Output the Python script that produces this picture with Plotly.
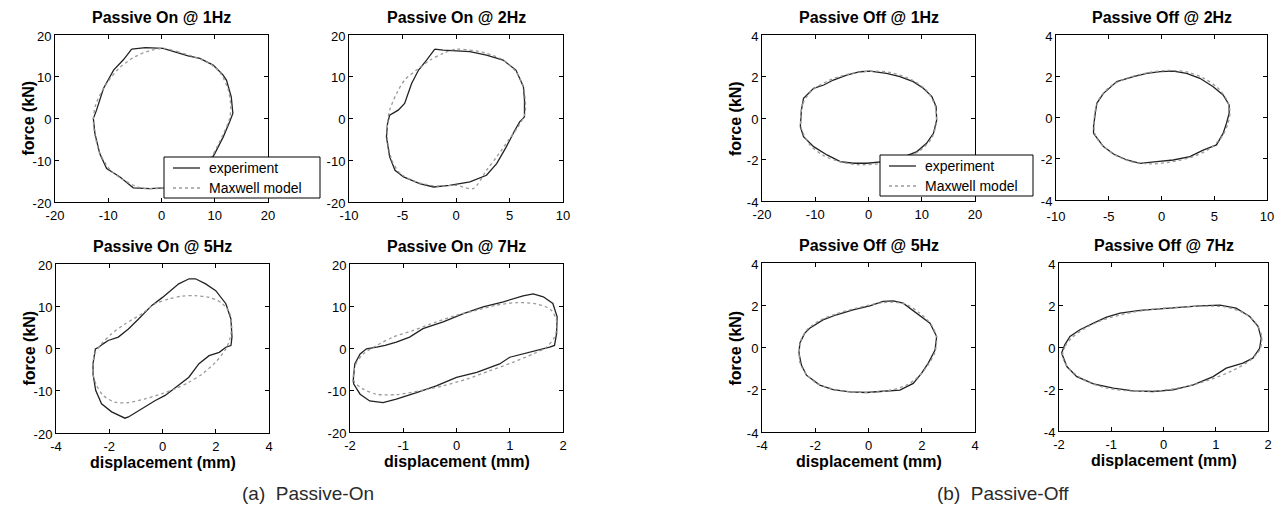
import plotly.graph_objects as go

PAGE_W, PAGE_H = 1283, 513
OFF = 8  # default body margin of the html page
W, H = PAGE_W - 2 * OFF, PAGE_H - 2 * OFF

# ---------------- data (displacement mm, force kN) ----------------
titles = ["Passive On @ 1Hz", "Passive On @ 2Hz", "Passive On @ 5Hz", "Passive On @ 7Hz",
          "Passive Off @ 1Hz", "Passive Off @ 2Hz", "Passive Off @ 5Hz", "Passive Off @ 7Hz"]
series_names = ["experiment", "Maxwell model"]
captions = ["(a)  Passive-On", "(b)  Passive-Off"]
x_title = "displacement (mm)"
y_title = "force (kN)"

x_ticks = [[-20, -10, 0, 10, 20], [-10, -5, 0, 5, 10], [-4, -2, 0, 2, 4], [-2, -1, 0, 1, 2],
           [-20, -10, 0, 10, 20], [-10, -5, 0, 5, 10], [-4, -2, 0, 2, 4], [-2, -1, 0, 1, 2]]
y_ticks_on = [-20, -10, 0, 10, 20]
y_ticks_off = [-4, -2, 0, 2, 4]

# Passive On @ 1Hz
on1_exp_x = [-5.6, -3, 0.3, 2.8, 5, 7.2, 9.7, 11.5, 12.2, 13.1, 13.4, 12.8, 11.6, 10, 8.5, 6.5, 3.5, 0.5,
             -2.2, -5.3, -7.8, -10.3, -11.6, -12.5, -12.8, -12.2, -10.9, -9, -7.2, -5.6]
on1_exp_y = [16.6, 17.0, 16.8, 15.8, 15.0, 14.4, 12.8, 10.5, 9.2, 5.2, 1.2, -0.8, -4.4, -8.4, -11.5, -14, -16, -16.6,
             -16.8, -16.6, -14, -12, -8.4, -3.6, 0, 2, 7.2, 11.6, 14, 16.6]
on1_mod_x = [0.5, 3, 6, 9, 11, 12.5, 13.0, 12.8, 11.5, 9.5, 7.5, 5, 2, -1, -4, -7, -9.5, -11.5, -12.5,
             -12.8, -12.3, -10.5, -8, -5, -2, 0.5]
on1_mod_y = [16.8, 16.0, 14.8, 13.2, 11, 7, 3, 0, -4, -9, -12.5, -15, -16.5, -16.8, -16.6, -14.8, -12.5, -8.5, -4,
             0, 3.5, 8, 12, 14.8, 16.3, 16.8]

# Passive On @ 2Hz
on2_exp_x = [-1.98, -1.2, 1.3, 2.85, 4.4, 5.6, 6.3, 6.4, 6.4, 5.95, 5.5, 4.7, 3.8, 2.85, 1.3, -0.6, -2.1, -3.4,
             -4.9, -5.7, -6.2, -6.5, -6.4, -6.2, -5.4, -4.8, -4.15, -3.5, -2.75, -1.98]
on2_exp_y = [16.6, 16.4, 16.0, 15.2, 14.0, 11.6, 7.6, 4.4, 0.4, -0.8, -2.8, -6.8, -10.8, -13.6, -15.2, -16, -16.4, -15.6,
             -14, -12.4, -9.2, -4.4, -1.2, 0.8, 2, 3.6, 8.4, 11.6, 14, 16.6]
on2_mod_x = [0, 1.3, 2.85, 4.4, 5.6, 6.3, 6.5, 6.4, 5.8, 4.9, 3.8, 2.85, 1.6, 0, -1.8, -3.7, -5.2, -6, -6.4, -6.4,
             -6.2, -5.55, -4.8, -3.7, -2.4, -1.2, 0]
on2_mod_y = [16.6, 16.4, 15.6, 14, 11.2, 7.6, 2.8, 0.8, -2, -5.2, -9.2, -12.4, -16.8, -16, -16.2, -15.2, -13.2, -10,
             -5.2, -1.2, 2, 6, 9.2, 11.6, 14, 15.6, 16.6]

# Passive On @ 5Hz
on5_exp_x = [-2.61, -2.61, -2.52, -2.42, -2.23, -2.04, -1.66, -1.28, -0.9, -0.4, 0, 0.3, 0.61, 1.0, 1.24, 1.62, 2.0,
             2.38, 2.57, 2.61, 2.57, 2.38, 2.13, 1.75, 1.37, 0.99, 0.49, 0.1, -0.27, -0.78, -1.28, -1.41, -1.91,
             -2.29, -2.51, -2.61]
on5_exp_y = [-6.0, -3.6, -0.1, 0.2, 1.1, 1.9, 2.7, 4.6, 7.0, 10.2, 12.1, 13.7, 15.3, 16.5, 16.5, 15.3, 13.7,
             10.6, 7.0, 2.7, 0.7, 0.3, -0.9, -1.7, -3.6, -6.8, -9.1, -11.1, -12.3, -14.3, -16.2, -16.5, -15.0,
             -13.1, -9.9, -6.0]
on5_mod_x = [-2.61, -2.55, -2.29, -1.91, -1.41, -0.78, -0.27, 0.23, 0.74, 1.24, 1.75, 2.19, 2.51, 2.6, 2.53, 2.38,
             2.0, 1.5, 0.99, 0.49, -0.02, -0.65, -1.28, -1.79, -2.23, -2.48, -2.61, -2.61]
on5_mod_y = [-3.6, -1.3, 1.1, 3.5, 5.8, 8.2, 10.6, 11.7, 12.4, 12.5, 12.1, 10.9, 8.6, 5.4, 2.3, -0.1,
             -3.2, -6.0, -8.0, -9.5, -10.7, -11.9, -12.8, -12.7, -11.1, -8.7, -6.0, -3.6]

# Passive On @ 7Hz
on7_exp_x = [-1.94, -1.91, -1.81, -1.69, -1.5, -1.34, -1.13, -0.88, -0.63, -0.25, 0.13, 0.5, 0.88, 1.25, 1.44,
             1.63, 1.81, 1.89, 1.88, 1.84, 1.75, 1.5, 1.25, 1.0, 0.81, 0.38, 0, -0.38, -0.75, -1.13, -1.38, -1.63,
             -1.81, -1.93, -1.94]
on7_exp_y = [-7.8, -3.8, -1.4, -0.2, 0.2, 0.6, 1.4, 2.6, 4.6, 6.2, 8.2, 9.8, 11, 12.4, 12.9,
             12.2, 10.6, 7.4, 3.4, 0.6, 0.2, -0.6, -1.5, -2.2, -3.8, -5.8, -7, -9, -10.6, -12.2, -13, -12.6,
             -11, -8.6, -7.8]
on7_mod_x = [-1.94, -1.89, -1.75, -1.5, -1.19, -0.81, -0.38, 0, 0.38, 0.75, 1.13, 1.5, 1.78, 1.89, 1.84, 1.69,
             1.44, 1.06, 0.63, 0.19, -0.25, -0.69, -1.13, -1.5, -1.75, -1.91, -1.94]
on7_mod_y = [-7, -3.8, -1.4, 0.6, 2.6, 4.2, 6.2, 7.8, 9, 10.2, 10.8, 10.5, 9, 5.8, 2.6, 0.2,
             -1.4, -3.4, -5.4, -7.4, -9, -10.2, -11.1, -11, -9.8, -8.2, -7]

# Passive Off @ 1Hz
off1_exp_x = [-12.8, -12.6, -12.2, -10.3, -8.4, -6.6, -4.1, -1.6, 0.3, 3.4, 5.9, 8.4, 10.3, 11.9, 12.7, 12.8,
              12.2, 10.9, 9.1, 5.9, 2.8, -0.3, -2.8, -5.3, -7.8, -10.3, -12.2, -12.8]
off1_exp_y = [-0.42, 0.39, 0.95, 1.43, 1.59, 1.83, 2.07, 2.23, 2.26, 2.15, 1.99, 1.75, 1.43, 1.03, 0.55, -0.1,
              -0.74, -1.22, -1.62, -1.94, -2.1, -2.18, -2.18, -2.1, -1.78, -1.38, -0.9, -0.42]
off1_mod_x = [-12.7, -12.3, -10.5, -7.5, -4, 0, 4, 8, 11, 12.6, 12.7, 11.8, 9.5, 6, 2, -2, -5.5, -8.5, -11, -12.7]
off1_mod_y = [-0.4, 0.7, 1.35, 1.8, 2.1, 2.25, 2.2, 1.85, 1.3, 0.5, -0.3, -1.0, -1.6, -2.0, -2.2, -2.25, -2.1,
              -1.8, -1.3, -0.4]

# Passive Off @ 2Hz
off2_exp_x = [-6.44, -6.44, -6.28, -6.13, -5.5, -4.24, -2.66, -1.4, -0.14, 1.12, 2.38, 3.64, 4.9, 5.84, 6.41, 6.41,
              6.16, 5.84, 5.21, 3.95, 2.69, 1.12, -0.46, -2.03, -3.29, -4.55, -5.5, -6.13, -6.44]
off2_exp_y = [-0.77, -0.44, 0.2, 0.69, 1.17, 1.74, 1.98, 2.14, 2.22, 2.25, 2.14, 1.9, 1.49, 1.09, 0.61, 0.2,
              -0.28, -0.77, -1.33, -1.58, -1.9, -2.06, -2.14, -2.22, -2.06, -1.77, -1.41, -1.01, -0.77]
off2_mod_x = [-6.4, -6.3, -5.8, -4.6, -3, -1, 0.8, 2.5, 4, 5.3, 6.2, 6.5, 6.3, 5.7, 4.6, 3, 1, -1, -2.8, -4.3,
              -5.5, -6.2, -6.4]
off2_mod_y = [-0.5, 0.3, 1.0, 1.6, 1.95, 2.2, 2.28, 2.2, 1.9, 1.45, 0.85, 0.3, -0.3, -0.95, -1.5, -1.9, -2.15,
              -2.25, -2.15, -1.85, -1.4, -0.95, -0.5]

# Passive Off @ 5Hz
off5_exp_x = [-2.61, -2.58, -2.4, -2.21, -1.71, -1.2, -0.58, 0.05, 0.55, 0.93, 1.3, 1.81, 2.31, 2.56, 2.5, 2.24,
              1.99, 1.68, 1.18, 0.55, -0.08, -0.7, -1.33, -1.83, -2.33, -2.52, -2.61]
off5_exp_y = [-0.28, 0.2, 0.67, 0.91, 1.31, 1.55, 1.78, 1.97, 2.18, 2.21, 2.1, 1.62, 1.15, 0.52, -0.12, -0.75,
              -1.23, -1.7, -2.02, -2.07, -2.13, -2.1, -1.99, -1.78, -1.31, -0.83, -0.28]
off5_mod_x = [-2.6, -2.55, -2.3, -1.8, -1.2, -0.5, 0.2, 0.8, 1.4, 1.9, 2.35, 2.55, 2.5, 2.25, 1.9, 1.4, 0.7, 0,
              -0.7, -1.4, -2.0, -2.4, -2.58, -2.6]
off5_mod_y = [-0.3, 0.3, 0.85, 1.3, 1.6, 1.85, 2.05, 2.15, 2.05, 1.65, 1.1, 0.5, -0.2, -0.8, -1.35, -1.8, -2.05,
              -2.12, -2.1, -1.95, -1.65, -1.15, -0.7, -0.3]

# Passive Off @ 7Hz
off7_exp_x = [-1.95, -1.89, -1.79, -1.6, -1.34, -1.09, -0.83, -0.45, -0.07, 0.31, 0.69, 1.08, 1.39, 1.65, 1.81,
              1.87, 1.84, 1.71, 1.52, 1.2, 0.95, 0.57, 0.18, -0.2, -0.58, -0.96, -1.34, -1.66, -1.85, -1.95]
off7_exp_y = [-0.29, 0.1, 0.5, 0.82, 1.14, 1.42, 1.61, 1.74, 1.82, 1.9, 1.96, 1.99, 1.85, 1.45, 0.98,
              0.42, -0.06, -0.53, -0.77, -1.01, -1.41, -1.8, -2.04, -2.12, -2.09, -1.96, -1.76, -1.41, -0.93, -0.29]
off7_mod_x = [-1.93, -1.88, -1.75, -1.5, -1.15, -0.7, -0.2, 0.3, 0.8, 1.2, 1.55, 1.78, 1.88, 1.85, 1.65, 1.3,
              0.9, 0.4, -0.1, -0.6, -1.1, -1.5, -1.78, -1.9, -1.93]
off7_mod_y = [-0.35, 0.05, 0.45, 0.9, 1.3, 1.6, 1.8, 1.9, 1.95, 1.9, 1.6, 1.1, 0.5, -0.1, -0.65, -1.15,
              -1.55, -1.9, -2.08, -2.1, -1.95, -1.6, -1.1, -0.7, -0.35]

exp_x = [on1_exp_x, on2_exp_x, on5_exp_x, on7_exp_x, off1_exp_x, off2_exp_x, off5_exp_x, off7_exp_x]
exp_y = [on1_exp_y, on2_exp_y, on5_exp_y, on7_exp_y, off1_exp_y, off2_exp_y, off5_exp_y, off7_exp_y]
mod_x = [on1_mod_x, on2_mod_x, on5_mod_x, on7_mod_x, off1_mod_x, off2_mod_x, off5_mod_x, off7_mod_x]
mod_y = [on1_mod_y, on2_mod_y, on5_mod_y, on7_mod_y, off1_mod_y, off2_mod_y, off5_mod_y, off7_mod_y]

# ---------------- layout geometry (page pixels: left, right, top, bottom) ----------------
boxes = [(55, 268, 35, 202), (349, 563, 35, 202), (56, 269, 264, 433), (350, 563, 264, 432),
         (762, 975, 35, 201), (1056, 1267, 35, 200), (762, 975, 263, 432), (1059, 1268, 263, 431)]
x_label_standoff = [1, 1, 1, 1, 1, 4, 1, 1]
legend_boxes = [(164, 320, 157, 198), (880, 1033, 155, 196)]
caption_pos = [(308, 493), (1003, 493)]
Y_TITLE_GAP = 27   # box left edge -> centre of y title
X_TITLE_GAP = 29   # box bottom edge -> centre of x title


def px(xp):
    return (xp - OFF) / W


def py(yp):
    return 1 - (yp - OFF) / H


FONT = "Liberation Sans, Arial, Helvetica, sans-serif"
EXP_LINE = dict(color="#222222", width=1.3)
MOD_LINE = dict(color="#9a9a9a", width=1.3, dash="dot")

fig = go.Figure()
annotations = []
shapes = []

for i in range(8):
    n = i + 1
    xa = "x" if n == 1 else f"x{n}"
    ya = "y" if n == 1 else f"y{n}"
    fig.add_trace(go.Scatter(x=exp_x[i], y=exp_y[i], mode="lines", name=series_names[0],
                             line=EXP_LINE, xaxis=xa, yaxis=ya, showlegend=False))
    fig.add_trace(go.Scatter(x=mod_x[i], y=mod_y[i], mode="lines", name=series_names[1],
                             line=dict(MOD_LINE, shape="spline", smoothing=0.8),
                             xaxis=xa, yaxis=ya, showlegend=False))

    l, r, t, b = boxes[i]
    xt = x_ticks[i]
    yt = y_ticks_on if i < 4 else y_ticks_off
    bottom_row = i in (2, 3, 6, 7)
    left_col = i in (0, 2, 4, 6)
    xkey = "xaxis" if n == 1 else f"xaxis{n}"
    ykey = "yaxis" if n == 1 else f"yaxis{n}"
    axis_common = dict(showline=True, linecolor="black", linewidth=1, mirror="allticks",
                       ticks="inside", ticklen=4, tickcolor="black", showgrid=False, zeroline=False,
                       tickfont=dict(family=FONT, size=13, color="black"), automargin=False)
    fig.update_layout({
        xkey: dict(axis_common, domain=[px(l), px(r)], anchor=ya, range=[xt[0], xt[-1]],
                   tickvals=xt, ticktext=[str(v) for v in xt], ticklabelstandoff=x_label_standoff[i]),
        ykey: dict(axis_common, domain=[py(b), py(t)], anchor=xa, range=[yt[0], yt[-1]],
                   tickvals=yt, ticktext=[str(v) for v in yt], ticklabelshift=1),
    })

    # panel title
    annotations.append(dict(text=f"<b>{titles[i]}</b>", x=px((l + r) / 2), y=py(t - 7),
                            xref="paper", yref="paper", xanchor="center", yanchor="bottom",
                            showarrow=False, font=dict(family=FONT, size=16, color="black")))
    # axis titles
    if bottom_row:
        annotations.append(dict(text=f"<b>{x_title}</b>", x=px((l + r) / 2), y=py(b + X_TITLE_GAP),
                                xref="paper", yref="paper", xanchor="center", yanchor="middle",
                                showarrow=False, font=dict(family=FONT, size=16, color="black")))
    if left_col:
        annotations.append(dict(text=f"<b>{y_title}</b>", x=px(l - Y_TITLE_GAP), y=py((t + b) / 2),
                                xref="paper", yref="paper", xanchor="center", yanchor="middle",
                                textangle=-90, showarrow=False,
                                font=dict(family=FONT, size=16, color="black")))

# captions
for (cx, cy), txt in zip(caption_pos, captions):
    annotations.append(dict(text=txt, x=px(cx), y=py(cy), xref="paper", yref="paper",
                            xanchor="center", yanchor="middle", showarrow=False,
                            font=dict(family=FONT, size=19, color="#2a2a2a")))

# legend boxes (one per group)
for (l, r, t, b) in legend_boxes:
    shapes.append(dict(type="rect", xref="paper", yref="paper", x0=px(l), x1=px(r), y0=py(b), y1=py(t),
                       line=dict(color="black", width=1), fillcolor="white", layer="above"))
    row1 = t + 11
    row2 = b - 10
    for yy, ln, name in ((row1, EXP_LINE, series_names[0]), (row2, MOD_LINE, series_names[1])):
        shapes.append(dict(type="line", xref="paper", yref="paper", x0=px(l + 9), x1=px(l + 36),
                           y0=py(yy), y1=py(yy), line=ln, layer="above"))
        annotations.append(dict(text=name, x=px(l + 43), y=py(yy), xref="paper", yref="paper",
                                xanchor="left", yanchor="middle", showarrow=False,
                                font=dict(family=FONT, size=14, color="black")))

fig.update_layout(
    width=W, height=H, autosize=False,
    margin=dict(l=0, r=0, t=0, b=0),
    paper_bgcolor="white", plot_bgcolor="white",
    font=dict(family=FONT, color="black"),
    annotations=annotations,
    shapes=shapes,
    showlegend=False,
)

fig.write_html("out.html")
